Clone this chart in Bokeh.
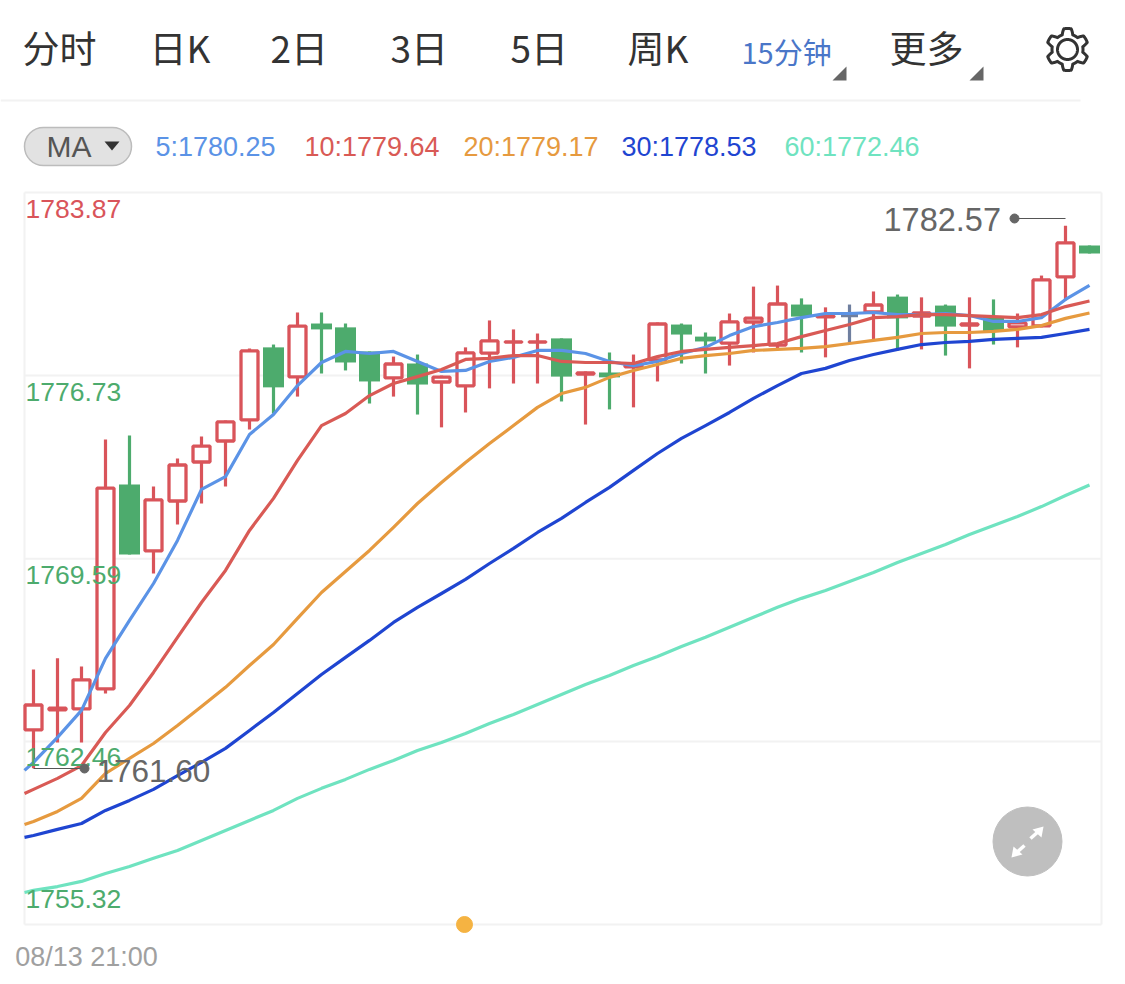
from bokeh.embed import file_html
from bokeh.resources import INLINE
from bokeh.plotting import figure
from bokeh.layouts import column
from bokeh.models import Range1d, FixedTicker
from bokeh.core.properties import value
import numpy as np

# ---- data (prices) ----
highs = [1765.27,1765.70,1765.38,1774.24,1774.39,1772.40,1773.50,1774.35,1774.98,1777.79,1777.94,1779.19,1779.19,1778.76,1777.67,1777.47,1777.55,1776.73,1777.83,1778.88,1778.53,1778.37,1778.18,1776.89,1777.63,1777.55,1778.80,1778.76,1778.41,1779.15,1780.20,1780.24,1779.74,1779.39,1779.50,1780.01,1779.89,1779.78,1779.50,1779.78,1779.70,1779.15,1780.63,1782.57,1781.80]
lows = [1761.41,1762.42,1762.42,1764.33,1769.75,1769.01,1770.92,1771.74,1772.40,1774.63,1775.25,1775.91,1776.81,1776.93,1775.64,1775.91,1775.21,1774.71,1775.29,1776.23,1776.42,1776.42,1775.72,1774.82,1775.41,1775.49,1776.50,1777.20,1776.81,1777.12,1777.63,1777.75,1777.63,1777.44,1778.02,1778.14,1777.71,1777.75,1777.51,1777.01,1777.94,1777.83,1778.61,1779.66,1781.49]
body_tops = [1763.94,1763.82,1764.92,1772.40,1772.48,1771.94,1773.30,1774.04,1774.98,1777.75,1777.83,1778.72,1778.76,1778.61,1777.67,1777.24,1777.20,1776.73,1777.67,1778.14,1778.10,1778.10,1778.18,1776.89,1776.85,1777.24,1778.80,1778.72,1778.25,1778.88,1779.03,1779.58,1779.50,1779.11,1779.07,1779.54,1779.81,1779.23,1779.46,1778.80,1779.03,1778.84,1780.52,1781.96,1781.80]
body_bottoms = [1762.85,1763.63,1763.67,1764.45,1769.75,1769.83,1771.78,1773.30,1774.12,1774.94,1776.27,1776.62,1778.53,1777.24,1776.50,1776.58,1776.38,1776.42,1776.27,1777.55,1777.98,1777.98,1776.69,1776.73,1776.66,1777.01,1777.28,1778.33,1778.06,1777.94,1778.76,1777.86,1779.03,1778.96,1779.07,1779.15,1778.96,1778.99,1778.64,1778.64,1778.45,1778.57,1778.61,1780.52,1781.49]
# "u" rising (hollow red), "d" falling (solid green), "f" flat (grey)
directions = ["u","u","u","u","d","u","u","u","u","u","d","u","d","d","d","u","d","u","u","u","u","u","d","u","d","u","u","d","d","u","u","u","d","u","f","u","d","u","d","u","d","u","u","u","d"]

ma5 = [1761.33,1761.64,1762.62,1763.67,1765.70,1767.18,1768.62,1770.30,1772.29,1772.79,1774.43,1775.21,1776.34,1777.24,1777.67,1777.59,1777.67,1777.28,1776.89,1776.93,1777.28,1777.44,1777.71,1777.71,1777.59,1777.28,1777.12,1777.28,1777.59,1777.83,1778.29,1778.64,1778.80,1778.99,1779.15,1779.15,1779.19,1779.11,1779.11,1779.15,1779.07,1778.84,1778.84,1778.99,1779.70,1780.25]
ma10 = [1760.43,1760.59,1761.02,1761.52,1762.81,1763.86,1765.15,1766.52,1767.88,1769.13,1770.69,1771.94,1773.42,1774.78,1775.25,1775.95,1776.42,1776.69,1776.97,1777.36,1777.40,1777.51,1777.51,1777.28,1777.24,1777.24,1777.20,1777.47,1777.67,1777.75,1777.83,1777.90,1777.98,1778.25,1778.49,1778.72,1778.99,1779.03,1779.11,1779.11,1779.07,1779.03,1778.99,1779.11,1779.42,1779.64]
ma20 = [1759.22,1759.34,1759.73,1760.24,1761.21,1761.80,1762.38,1763.08,1763.82,1764.57,1765.42,1766.24,1767.26,1768.27,1769.09,1769.91,1770.81,1771.74,1772.56,1773.34,1774.08,1774.78,1775.49,1776.03,1776.27,1776.66,1776.93,1777.16,1777.40,1777.51,1777.59,1777.71,1777.75,1777.79,1777.86,1777.98,1778.10,1778.22,1778.37,1778.41,1778.41,1778.45,1778.53,1778.68,1778.96,1779.17]
ma30 = [1758.72,1758.79,1759.03,1759.26,1759.77,1760.16,1760.59,1761.13,1761.64,1762.19,1762.89,1763.59,1764.33,1765.07,1765.74,1766.40,1767.10,1767.69,1768.23,1768.78,1769.40,1769.99,1770.61,1771.16,1771.78,1772.37,1773.03,1773.69,1774.28,1774.78,1775.29,1775.84,1776.34,1776.81,1777.01,1777.32,1777.55,1777.75,1777.94,1778.02,1778.06,1778.14,1778.18,1778.22,1778.37,1778.53]
ma60 = [1756.57,1756.65,1756.80,1757.00,1757.31,1757.58,1757.90,1758.21,1758.60,1758.99,1759.38,1759.77,1760.24,1760.63,1760.98,1761.37,1761.72,1762.11,1762.42,1762.77,1763.16,1763.51,1763.90,1764.29,1764.68,1765.03,1765.42,1765.77,1766.16,1766.52,1766.91,1767.30,1767.69,1768.04,1768.35,1768.70,1769.05,1769.44,1769.79,1770.14,1770.53,1770.88,1771.23,1771.62,1772.05,1772.46]

grid_prices = [1783.87, 1776.73, 1769.59, 1762.46, 1755.32]
price_labels = ["1783.87", "1776.73", "1769.59", "1762.46", "1755.32"]
tabs = ["分时", "日K", "2日", "3日", "5日", "周K"]
legend_labels = ["5:1780.25", "10:1779.64", "20:1779.17", "30:1778.53", "60:1772.46"]
max_label = "1782.57"
min_label = "1761.60"
date_label = "08/13 21:00"

# ---- styles ----
RED = "#d9545a"
GREEN = "#4dab6d"
GREY = "#6f7f9f"
MA_COLORS = ["#5b93e6", "#d95a55", "#e69a3f", "#1f45d1", "#6fe3c0"]
FONT = value("Liberation Sans")
CJK = value("Noto Sans CJK SC")

# page pixel -> data
PX_PER_PRICE = 732 / (1783.87 - 1755.32)
def X(px): return (px - 33) / 24
def Y(py): return 1783.87 - (py - 192) / PX_PER_PRICE
INSET = 1.5 / PX_PER_PRICE

# ---- header ----
h = figure(width=1125, height=188, x_range=Range1d(0, 1125), y_range=Range1d(188, 0),
           x_axis_location=None, y_axis_location=None, toolbar_location=None,
           output_backend="svg", min_border=0, outline_line_color=None)
h.xgrid.visible = False
h.ygrid.visible = False
h.text(x=[22, 149, 270, 390, 510, 627], y=[46] * 6, text=tabs, text_font=CJK,
       text_font_size="37px", text_color="#333333", text_baseline="middle")
h.text(x=[741], y=[50], text=["15分钟"], text_font=CJK, text_font_size="29px",
       text_color="#4a76c8", text_baseline="middle")
h.text(x=[889], y=[46], text=["更多"], text_font=CJK, text_font_size="37px",
       text_color="#333333", text_baseline="middle")
for cx in (846, 983):
    h.patch([cx, cx, cx - 14], [66, 80, 80], color="#666666", line_width=0)
h.line([0, 1080], [100, 100], line_color="#f2f2f2", line_width=2)

# settings gear
theta = np.linspace(0, 2 * np.pi, 721)
phase = (theta / (np.pi / 3)) % 1
radius = np.where(np.abs(phase - 0.5) < 0.17, 21.0,
                  np.where(np.abs(phase - 0.5) > 0.33, 15.5,
                           15.5 + (0.33 - np.abs(phase - 0.5)) / 0.16 * 5.5))
ang = theta + np.pi / 2 - np.pi / 6
h.line(1067 + radius * np.cos(ang), 49 + radius * np.sin(ang), line_color="#333333",
       line_width=3, line_join="round")
h.line(1067 + 10 * np.cos(theta), 49 + 10 * np.sin(theta), line_color="#333333", line_width=3)

# MA pill + legend
h.quad(left=[24], right=[131], top=[127], bottom=[165], fill_color="#e2e2e2",
       line_color="#bcbcbc", line_width=1.5, border_radius=19)
h.text(x=[46], y=[146], text=["MA"], text_font=FONT, text_font_size="30px",
       text_color="#555555", text_baseline="middle")
h.patch([104, 119, 111.5], [141, 141, 150], color="#333333", line_width=0)
for lx, lab, col in zip([155, 304, 463, 621, 784], legend_labels, MA_COLORS):
    h.text(x=[lx], y=[146], text=[lab], text_font=FONT, text_font_size="27px",
           text_color=col, text_baseline="middle")

# ---- chart ----
p = figure(width=1125, height=796, x_range=Range1d(X(0), X(1125)),
           y_range=Range1d(Y(940), Y(188)), x_axis_location="below", y_axis_location=None,
           toolbar_location=None, output_backend="svg", min_border=0,
           min_border_bottom=44, outline_line_color=None)
p.xgrid.visible = False
p.ygrid.visible = False
p.segment(x0=[X(24)] * 5, x1=[X(1101)] * 5, y0=grid_prices, y1=grid_prices,
          line_color="#f2f2f2", line_width=2)
p.segment(x0=[X(24), X(1101)], x1=[X(24), X(1101)], y0=[Y(192)] * 2, y1=[Y(924)] * 2,
          line_color="#f2f2f2", line_width=2)

tick = X(86)
p.xaxis.ticker = FixedTicker(ticks=[tick])
p.xaxis.major_label_overrides = {tick: date_label}
p.xaxis.axis_line_color = None
p.xaxis.major_tick_line_color = None
p.xaxis.minor_tick_line_color = None
p.xaxis.major_label_standoff = -5
p.xaxis.major_label_text_font = "Liberation Sans"
p.xaxis.major_label_text_font_size = "27px"
p.xaxis.major_label_text_color = "#a0a0a0"

idx = list(range(len(highs)))
wick_color = {"u": RED, "d": GREEN, "f": GREY}
p.segment(x0=idx, x1=idx, y0=lows, y1=highs, line_width=3.2,
          line_color=[wick_color[d] for d in directions])

solid = [i for i in idx if directions[i] == "d"]
p.quad(left=[i - 0.4375 for i in solid], right=[i + 0.4375 for i in solid],
       top=[body_tops[i] for i in solid], bottom=[body_bottoms[i] for i in solid],
       fill_color=GREEN, line_color=None)

def hollow(keys, col):
    tops, bots = [], []
    for i in keys:
        t, b = body_tops[i] - INSET, body_bottoms[i] + INSET
        if t < b:
            t = b = (body_tops[i] + body_bottoms[i]) / 2
        tops.append(t)
        bots.append(b)
    p.quad(left=[i - 0.354 for i in keys], right=[i + 0.354 for i in keys], top=tops, bottom=bots,
           fill_color="white", line_color=col, line_width=3.3)

hollow([i for i in idx if directions[i] == "u"], RED)
hollow([i for i in idx if directions[i] == "f"], GREY)

ma_x = [X(24)] + idx
for series, col in zip([ma5, ma10, ma20, ma30, ma60], MA_COLORS):
    p.line(ma_x, series, line_color=col, line_width=3.2, line_join="round")

# price labels inside the plot
label_px = [208, 391, 574, 756, 898]
p.text(x=[X(25)] * 5, y=[Y(v) for v in label_px],
       text=price_labels, text_font=FONT, text_font_size="26.5px",
       text_color=[RED, GREEN, GREEN, GREEN, GREEN], text_baseline="middle")

# max / min annotations
ANNOT = "#666666"
p.line([X(1014), X(1065)], [Y(218), Y(218)], line_color="#555555", line_width=1.2)
p.scatter([X(1014)], [Y(218)], size=9, color=ANNOT, marker="circle")
p.text(x=[X(883)], y=[Y(219)], text=[max_label], text_font=FONT, text_font_size="32.5px",
       text_color=ANNOT, text_baseline="middle")
p.line([X(33), X(84)], [Y(768), Y(768)], line_color="#555555", line_width=1.2)
p.scatter([X(84)], [Y(768)], size=9, color=ANNOT, marker="circle")
p.text(x=[X(96)], y=[Y(770)], text=[min_label], text_font=FONT, text_font_size="31.5px",
       text_color=ANNOT, text_baseline="middle")

# expand button + slider dot
p.scatter([X(1027)], [Y(841)], size=69, color="#bfbfbf", marker="circle")
p.segment(x0=[X(1030), X(1024)], x1=[X(1039), X(1015)], y0=[Y(838), Y(845)], y1=[Y(830), Y(853)],
          line_color="white", line_width=3.5)
p.patch([X(1043), X(1032), X(1041)], [Y(826), Y(829), Y(837)], color="white", line_width=0)
p.patch([X(1011), X(1022), X(1013)], [Y(857), Y(854), Y(846)], color="white", line_width=0)
p.scatter([X(464)], [Y(924)], size=16, color="#f5b342", marker="circle")

page = column(h, p, spacing=0)
open("out.html", "w").write(file_html(page, INLINE))
